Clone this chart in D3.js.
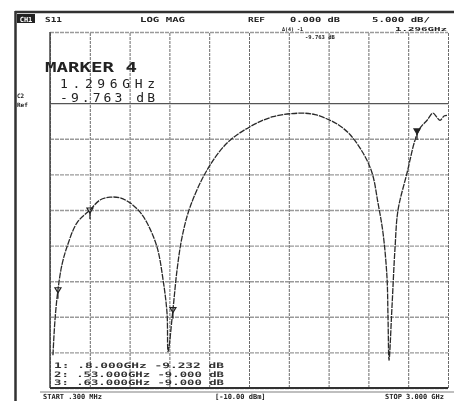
<!DOCTYPE html>
<html>
<head>
<meta charset="utf-8">
<script src="https://cdn.jsdelivr.net/npm/d3@7"></script>
<style>
  body { margin: 0; background: #fff; }
  svg { display: block; }
  text { font-family: "DejaVu Sans Mono", "Liberation Mono", monospace; fill: #222; }
</style>
</head>
<body>
<div id="chart"></div>
<script>
// S11 trace, frequency in GHz, magnitude in dB
const freqGHz = [0.320, 0.334, 0.354, 0.381, 0.415, 0.483, 0.571, 0.639, 0.707, 0.775, 0.843, 0.911,
  0.958, 1.026, 1.067, 1.094, 1.101, 1.134, 1.162, 1.196, 1.250, 1.365, 1.501, 1.657, 1.813, 1.996,
  2.098, 2.200, 2.268, 2.335, 2.424, 2.485, 2.525, 2.559, 2.586, 2.593, 2.600, 2.620, 2.641, 2.661, 2.722,
  2.776, 2.810, 2.858, 2.898, 2.925, 2.946, 2.973, 2.993];
const magDb = [-35.4, -30.4, -26.2, -22.7, -20.2, -16.8, -15.0, -13.6, -13.2, -13.3, -14.0, -15.3,
  -16.8, -20.2, -24.8, -29.5, -34.9, -29.0, -23.4, -18.8, -14.6, -9.4, -5.6, -3.3, -1.9, -1.4,
  -1.6, -2.4, -3.2, -4.4, -7.0, -9.8, -14.0, -18.2, -24.4, -30.0, -36.1, -28.6, -20.2, -15.0, -9.8,
  -5.2, -3.5, -2.4, -1.4, -2.0, -2.4, -1.8, -1.7];

const markerIds = ['1', '2', '3', '5'];
const markerFreq = [0.354, 0.571, 1.134, 2.790];
const markerDb = [-26.2, -15.0, -29.0, -3.9];

const headerLabels = ['S11', 'LOG MAG', 'REF', '0.000 dB', '5.000 dB/'];
const markerReadout = ['MARKER 4', '1.296GHz', '-9.763 dB'];
const listRows = ['1: .8.000GHz  -9.232 dB', '2: .53.000GHz  -9.000 dB', '3: .63.000GHz  -9.000 dB'];
const footerLabels = ['START .300 MHz', '[-10.00 dBm]', 'STOP 3.000 GHz'];

const W = 454, H = 401;
const plot = { left: 50, right: 448, top: 32, bottom: 388 };

const svg = d3.select('#chart').append('svg')
  .attr('width', W).attr('height', H);

svg.append('defs').append('filter').attr('id', 'soft')
  .append('feGaussianBlur').attr('stdDeviation', 0.45);

const g = svg.append('g').attr('filter', 'url(#soft)');

const x = d3.scaleLinear().domain([0.3, 3.0]).range([plot.left, plot.right]);
const y = d3.scaleLinear().domain([-40, 10]).range([plot.bottom, plot.top]);

// outer frame of the scanned screen
g.append('line').attr('x1', 15).attr('x2', W).attr('y1', 12).attr('y2', 12)
  .attr('stroke', '#333').attr('stroke-width', 2.5);
g.append('line').attr('x1', 15.5).attr('x2', 15.5).attr('y1', 11).attr('y2', H)
  .attr('stroke', '#333').attr('stroke-width', 2.5);

// vertical grid (10 divisions)
const xTicks = d3.range(11).map(i => 0.3 + i * 0.27);
g.append('g')
  .attr('transform', `translate(0,${plot.bottom})`)
  .call(d3.axisBottom(x).tickValues(xTicks).tickSize(-(plot.bottom - plot.top)).tickFormat(''))
  .call(s => s.select('.domain').remove())
  .call(s => s.selectAll('.tick line')
    .attr('stroke', '#6a6a6a').attr('stroke-width', 1).attr('stroke-dasharray', '3,1'));

// horizontal grid, 5 dB / div (the +5 dB line is not printed)
const yTicks = [-40, -35, -30, -25, -20, -15, -10, -5, 0, 10];
g.append('g')
  .attr('transform', `translate(${plot.left},0)`)
  .call(d3.axisLeft(y).tickValues(yTicks).tickSize(-(plot.right - plot.left)).tickFormat(''))
  .call(s => s.select('.domain').remove())
  .call(s => s.selectAll('.tick line')
    .attr('stroke', d => d === 0 ? '#555' : '#9a9a9a')
    .attr('stroke-width', d => d === 0 ? 1.2 : 1.4)
    .attr('stroke-dasharray', d => d === 0 ? null : '4,1'));

// plot border
g.append('line').attr('x1', plot.left).attr('x2', plot.left).attr('y1', plot.top).attr('y2', plot.bottom)
  .attr('stroke', '#444').attr('stroke-width', 1.5);
g.append('line').attr('x1', plot.left).attr('x2', plot.right).attr('y1', plot.bottom).attr('y2', plot.bottom)
  .attr('stroke', '#333').attr('stroke-width', 2);
g.append('line').attr('x1', 40).attr('x2', W).attr('y1', plot.bottom + 4).attr('y2', plot.bottom + 4)
  .attr('stroke', '#aaa').attr('stroke-width', 1.5);

// trace
const trace = freqGHz.map((f, i) => ({ f, db: magDb[i] }));
const line = d3.line().x(d => x(d.f)).y(d => y(d.db)).curve(d3.curveCatmullRom.alpha(0.5));
g.append('path').datum(trace)
  .attr('fill', 'none').attr('stroke', '#2a2a2a').attr('stroke-width', 1.3)
  .attr('stroke-dasharray', '6,1')
  .attr('d', line);

// markers
const markers = markerIds.map((id, i) => ({ id, f: markerFreq[i], db: markerDb[i] }));
const mk = g.selectAll('.mk').data(markers).enter().append('g')
  .attr('transform', d => `translate(${x(d.f)},${y(d.db)})`);
mk.append('path').attr('d', 'M-3,-2 L3,-2 L0,3 Z')
  .attr('fill', d => d.id === '5' ? '#222' : 'none').attr('stroke', '#222').attr('stroke-width', 1.2);
mk.append('line').attr('x1', 0).attr('x2', 0).attr('y1', 2).attr('y2', 9)
  .attr('stroke', '#222').attr('stroke-width', 1.2);

// header line
g.append('rect').attr('x', 17).attr('y', 14).attr('width', 18).attr('height', 9).attr('fill', '#222');
g.append('text').attr('x', 26).attr('y', 21.5).attr('text-anchor', 'middle')
  .style('font-size', '7px').style('font-weight', 'bold').style('fill', '#fff').text('CH1');
const headerX = [45, 140, 248, 290, 372];
const headerLen = [17, 45, 17, 50, 58];
g.selectAll('.hdr').data(headerLabels).enter().append('text')
  .attr('x', (d, i) => headerX[i]).attr('y', 22)
  .attr('textLength', (d, i) => headerLen[i]).attr('lengthAdjust', 'spacingAndGlyphs')
  .style('font-size', '7px').style('font-weight', 'bold').text(d => d);

g.append('text').attr('x', 282).attr('y', 31).style('font-size', '5px').style('font-weight', 'bold').text('\u0394(4) -1');
g.append('text').attr('x', 305).attr('y', 39).style('font-size', '5.5px').style('font-weight', 'bold').text('-9.763 dB');
g.append('text').attr('x', 395).attr('y', 31).style('font-size', '5.5px').style('font-weight', 'bold')
  .attr('textLength', 52).attr('lengthAdjust', 'spacingAndGlyphs').text('1.296GHz');

// channel / ref labels on the left
g.append('text').attr('x', 17).attr('y', 98).style('font-size', '6px').style('font-weight', 'bold').text('C2');
g.append('text').attr('x', 17).attr('y', 107).style('font-size', '6px').style('font-weight', 'bold').text('Ref');

// marker readout
g.append('text').attr('x', 45).attr('y', 72)
  .attr('textLength', 92).attr('lengthAdjust', 'spacingAndGlyphs')
  .style('font-size', '14px').style('font-weight', 'bold').text(markerReadout[0]);
g.append('text').attr('x', 60).attr('y', 88)
  .attr('textLength', 95).attr('lengthAdjust', 'spacing')
  .style('font-size', '13px').text(markerReadout[1]);
g.append('text').attr('x', 60).attr('y', 102)
  .attr('textLength', 95).attr('lengthAdjust', 'spacing')
  .style('font-size', '13px').text(markerReadout[2]);

// marker list at the bottom
g.selectAll('.lst').data(listRows).enter().append('text')
  .attr('x', 54).attr('y', (d, i) => 368 + i * 8.5)
  .style('font-size', '7.5px').style('font-weight', 'bold').style('fill', '#333')
  .attr('textLength', 170).attr('lengthAdjust', 'spacingAndGlyphs')
  .text(d => d);

// footer
const footerX = [43, 215, 385];
g.selectAll('.ftr').data(footerLabels).enter().append('text')
  .attr('x', (d, i) => footerX[i]).attr('y', 399)
  .style('font-size', '7px').style('font-weight', 'bold').text(d => d);
</script>
</body>
</html>
